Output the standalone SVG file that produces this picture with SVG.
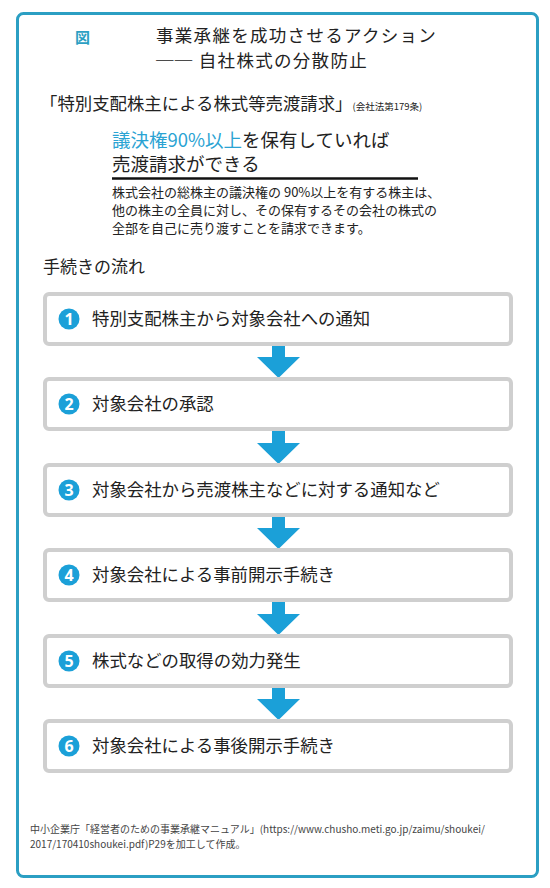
<svg xmlns="http://www.w3.org/2000/svg" width="550" height="888" viewBox="0 0 550 888">
<style>
text{font-family:"Noto Sans CJK JP","Noto Sans",sans-serif;fill:#222}
.box{fill:#fff;stroke:#cfcfcf;stroke-width:4}
.num{fill:#1ba0d8}
.numt{fill:#fff;font-family:"Noto Sans","Noto Sans CJK JP",sans-serif;font-weight:bold;font-size:16px;text-anchor:middle}
.lbl{font-size:17.4px}
.arr{fill:#1ba0d8}
</style>
<rect x="0" y="0" width="550" height="888" fill="#fff"/>
<rect id="frame" x="17.5" y="13.5" width="520" height="863" rx="6" fill="#fff" stroke="#2b9fc3" stroke-width="3"/>
<g id="title">
<text x="75" y="43" font-size="15" font-weight="bold" style="fill:#2b9fc3">図</text>
<text x="156" y="42" font-size="17.5" letter-spacing="1.3">事業承継を成功させるアクション</text>
<text x="156" y="67" font-size="17.5" letter-spacing="1.3">── 自社株式の分散防止</text>
</g>
<g id="header">
<text x="40" y="110" font-size="17.4">「特別支配株主による株式等売渡請求」<tspan font-size="9.5">(会社法第179条)</tspan></text>
<text x="112" y="147" font-size="18.5"><tspan style="fill:#2aa3d3">議決権90%以上</tspan>を保有していれば</text>
<text x="112" y="171" font-size="18.5">売渡請求ができる</text>
<line x1="112" y1="178.5" x2="418" y2="178.5" stroke="#111" stroke-width="2.5"/>
<text x="112" y="197" font-size="13">株式会社の総株主の議決権の 90%以上を有する株主は、</text>
<text x="112" y="215" font-size="13">他の株主の全員に対し、その保有するその会社の株式の</text>
<text x="112" y="233" font-size="13">全部を自己に売り渡すことを請求できます。</text>
<text x="43" y="273" font-size="17">手続きの流れ</text>
</g>
<g id="connectors">
<polygon class="arr" points="272,344 285,344 285,357 300,357 278.5,378 257,357 272,357"/>
<polygon class="arr" points="272,429 285,429 285,443 300,443 278.5,464 257,443 272,443"/>
<polygon class="arr" points="272,515 285,515 285,528 300,528 278.5,549 257,528 272,528"/>
<polygon class="arr" points="272,600 285,600 285,614 300,614 278.5,635 257,614 272,614"/>
<polygon class="arr" points="272,686 285,686 285,699 300,699 278.5,720 257,699 272,699"/>
</g>
<g id="step1">
<rect class="box" x="45" y="294" width="466" height="50" rx="4"/>
<circle class="num" cx="69" cy="319" r="10.5"/><text class="numt" x="69" y="325">1</text>
<text class="lbl" x="92" y="325">特別支配株主から対象会社への通知</text>
</g>
<g id="step2">
<rect class="box" x="45" y="379" width="466" height="50" rx="4"/>
<circle class="num" cx="69" cy="404" r="10.5"/><text class="numt" x="69" y="410">2</text>
<text class="lbl" x="92" y="410">対象会社の承認</text>
</g>
<g id="step3">
<rect class="box" x="45" y="465" width="466" height="50" rx="4"/>
<circle class="num" cx="69" cy="490" r="10.5"/><text class="numt" x="69" y="496">3</text>
<text class="lbl" x="92" y="496">対象会社から売渡株主などに対する通知など</text>
</g>
<g id="step4">
<rect class="box" x="45" y="550" width="466" height="50" rx="4"/>
<circle class="num" cx="69" cy="575" r="10.5"/><text class="numt" x="69" y="581">4</text>
<text class="lbl" x="92" y="581">対象会社による事前開示手続き</text>
</g>
<g id="step5">
<rect class="box" x="45" y="636" width="466" height="50" rx="4"/>
<circle class="num" cx="69" cy="661" r="10.5"/><text class="numt" x="69" y="667">5</text>
<text class="lbl" x="92" y="667">株式などの取得の効力発生</text>
</g>
<g id="step6">
<rect class="box" x="45" y="721" width="466" height="50" rx="4"/>
<circle class="num" cx="69" cy="746" r="10.5"/><text class="numt" x="69" y="752">6</text>
<text class="lbl" x="92" y="752">対象会社による事後開示手続き</text>
</g>
<g id="footer">
<text x="30" y="833" font-size="10" style="fill:#444">中小企業庁「経営者のための事業承継マニュアル」(https://www.chusho.meti.go.jp/zaimu/shoukei/</text>
<text x="30" y="848" font-size="10" style="fill:#444">2017/170410shoukei.pdf)P29を加工して作成。</text>
</g>
</svg>
